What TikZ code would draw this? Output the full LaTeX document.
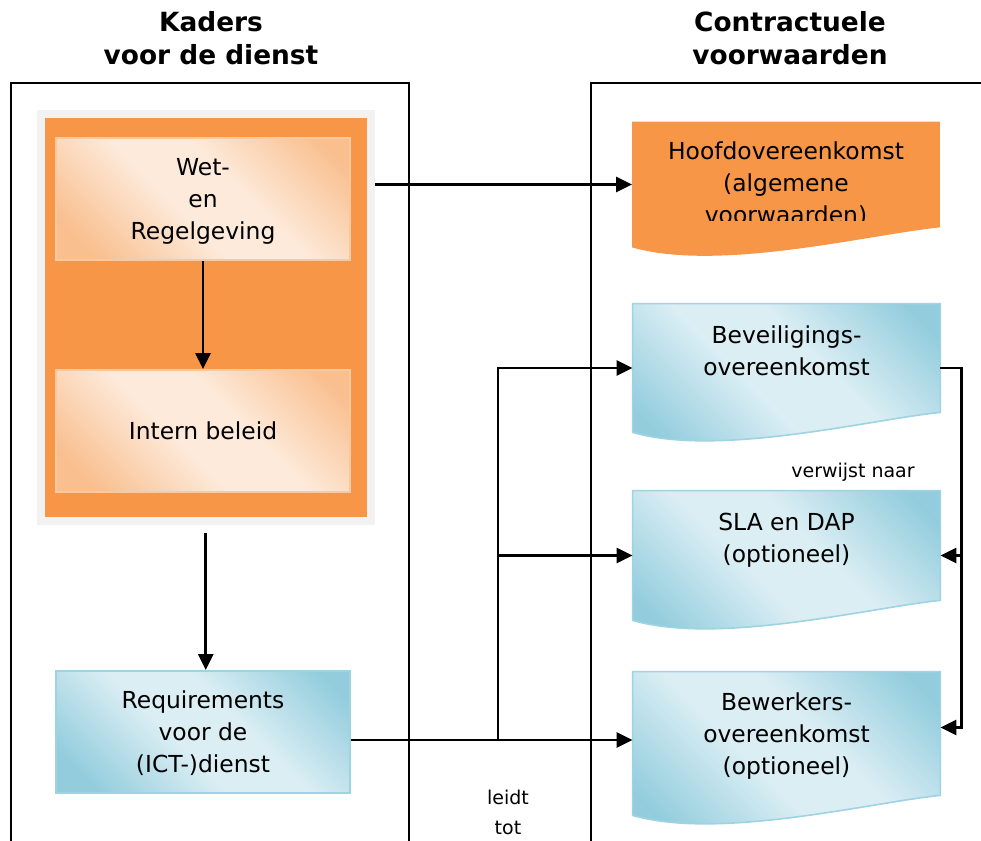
\documentclass[tikz,border=0pt]{standalone}
\usepackage{fontspec}
\setmainfont{DejaVu Sans}
\usepackage{xcolor}
\usetikzlibrary{arrows.meta,calc,positioning}

\definecolor{kaderoranje}{HTML}{F79646}
\definecolor{kadergrijs}{HTML}{F2F2F2}
\definecolor{oranjelicht}{HTML}{FDEADA}
\definecolor{oranjedonker}{HTML}{F9BF8F}
\definecolor{oranjerand}{HTML}{FAC9A0}
\definecolor{blauwlicht}{HTML}{DBEEF4}
\definecolor{blauwdonker}{HTML}{93CDDD}
\definecolor{blauwrand}{HTML}{9ED3E2}

\pgfdeclarehorizontalshading{oranjevlak}{100bp}{color(0bp)=(oranjedonker); color(22bp)=(oranjedonker);
  color(44bp)=(oranjelicht); color(58bp)=(oranjelicht); color(80bp)=(oranjedonker); color(100bp)=(oranjedonker)}
\pgfdeclarehorizontalshading{blauwvlak}{100bp}{color(0bp)=(blauwdonker); color(22bp)=(blauwdonker);
  color(44bp)=(blauwlicht); color(58bp)=(blauwlicht); color(80bp)=(blauwdonker); color(100bp)=(blauwdonker)}

% document shape with wavy bottom around a named node
\newcommand\docvorm[2]{%
  \path[#2] (#1.north west) -- (#1.north east) -- ($(#1.south east)+(0,-20)$)
    .. controls ($(#1.south east)+(-70,-13)$) and ($(#1.south west)+(87,25)$) .. (#1.south west) -- cycle;}

\begin{document}
\begin{tikzpicture}[
    x = 0.5pt, y = -0.5pt,
    every node/.style = {font=\fontsize{11.7}{16}\selectfont, align=center},
    titel/.style      = {font=\fontsize{13.2}{16.5}\selectfont\bfseries},
    klein/.style      = {font=\fontsize{9.5}{15}\selectfont},
    kaderlijn/.style  = {line width=1pt},
    lijn/.style       = {line width=1.4pt},
    pijl/.style       = {lijn, -{Triangle[length=8pt,width=7.5pt]}},
    oranjebox/.style  = {rectangle, minimum width=147pt, minimum height=61pt, draw=oranjerand,
                         line width=1pt, shade, shading=oranjevlak, shading angle=45, text depth=-3pt},
    blauwbox/.style   = {oranjebox, draw=blauwrand, shading=blauwvlak},
    doc/.style        = {rectangle, minimum width=153.5pt, inner sep=0},
    blauwdoc/.style   = {draw=blauwrand, line width=0.8pt, shade, shading=blauwvlak, shading angle=45},
    doctekst/.style   = {inner sep=0}
  ]
\useasboundingbox (0,0) rectangle (981,841);

% kolommen
\node[titel] (titelkaders) at (211,38) {Kaders\\voor de dienst};
\node[titel] (titelcontract) at (790,38) {Contractuele\\voorwaarden};
\draw[kaderlijn] (11,841) -- (11,83) -- (409,83) -- (409,841);
\draw[kaderlijn] (591,841) -- (591,83) -- (981,83);

% kaders voor de dienst
\node[draw=kadergrijs, line width=4pt, fill=kaderoranje, minimum width=164.75pt,
      minimum height=203.5pt, inner sep=0] (kader) at (205.75,317.5) {};
\node[oranjebox] (wet) at (203,199) {Wet-\\en\\Regelgeving};
\node[oranjebox] (intern) at (203,431) {Intern beleid};
\node[blauwbox] (req) at (203,732) {Requirements\\voor de\\(ICT-)dienst};

% contractuele voorwaarden
\node[doc, minimum height=62.5pt] (hoofd) at (786,184.5) {};
\node[doc, minimum height=64pt] (bev) at (786.5,368) {};
\node[doc, minimum height=64.5pt] (sla) at (786.5,555.5) {};
\node[doc, minimum height=71.5pt] (bew) at (786.5,743.5) {};
\docvorm{hoofd}{fill=kaderoranje}
\docvorm{bev}{blauwdoc}
\docvorm{sla}{blauwdoc}
\docvorm{bew}{blauwdoc}
\begin{scope}
  \clip (hoofd.north west) rectangle (940,220);
  \node[doctekst, below=10pt of hoofd.north] (hoofdtekst) {Hoofdovereenkomst\\(algemene\\voorwaarden)};
\end{scope}
\node[doctekst, below=11pt of bev.north] (bevtekst) {Beveiligings-\\overeenkomst};
\node[doctekst, below=11pt of sla.north] (slatekst) {SLA en DAP\\(optioneel)};
\node[doctekst, below=10.5pt of bew.north] (bewtekst) {Bewerkers-\\overeenkomst\\(optioneel)};

% verbindingen
\draw[pijl] (wet) -- (intern);
\draw[pijl, shorten <=4pt] (kader.south) -- (kader.south |- req.north);
\draw[pijl] (kader.east |- hoofd.west) -- (hoofd.west);
\coordinate (splits) at (498,740);
\draw[lijn] (req.east |- splits) -- (splits);
\draw[pijl] (splits) -- (splits -| bew.west);
\draw[pijl] (splits) |- (sla.west);
\draw[pijl] (splits) |- (bev.west);
\draw[pijl] (bev.east) -- ++(21,0) coordinate (hoek) |- ([yshift=8pt]bew.east);
\draw[pijl] (hoek |- sla.east) -- (sla.east);

\node[klein] (verwijst) at (853,472) {verwijst naar};
\node[klein] (leidt) at (508,812) {leidt\\tot};
\end{tikzpicture}
\end{document}
